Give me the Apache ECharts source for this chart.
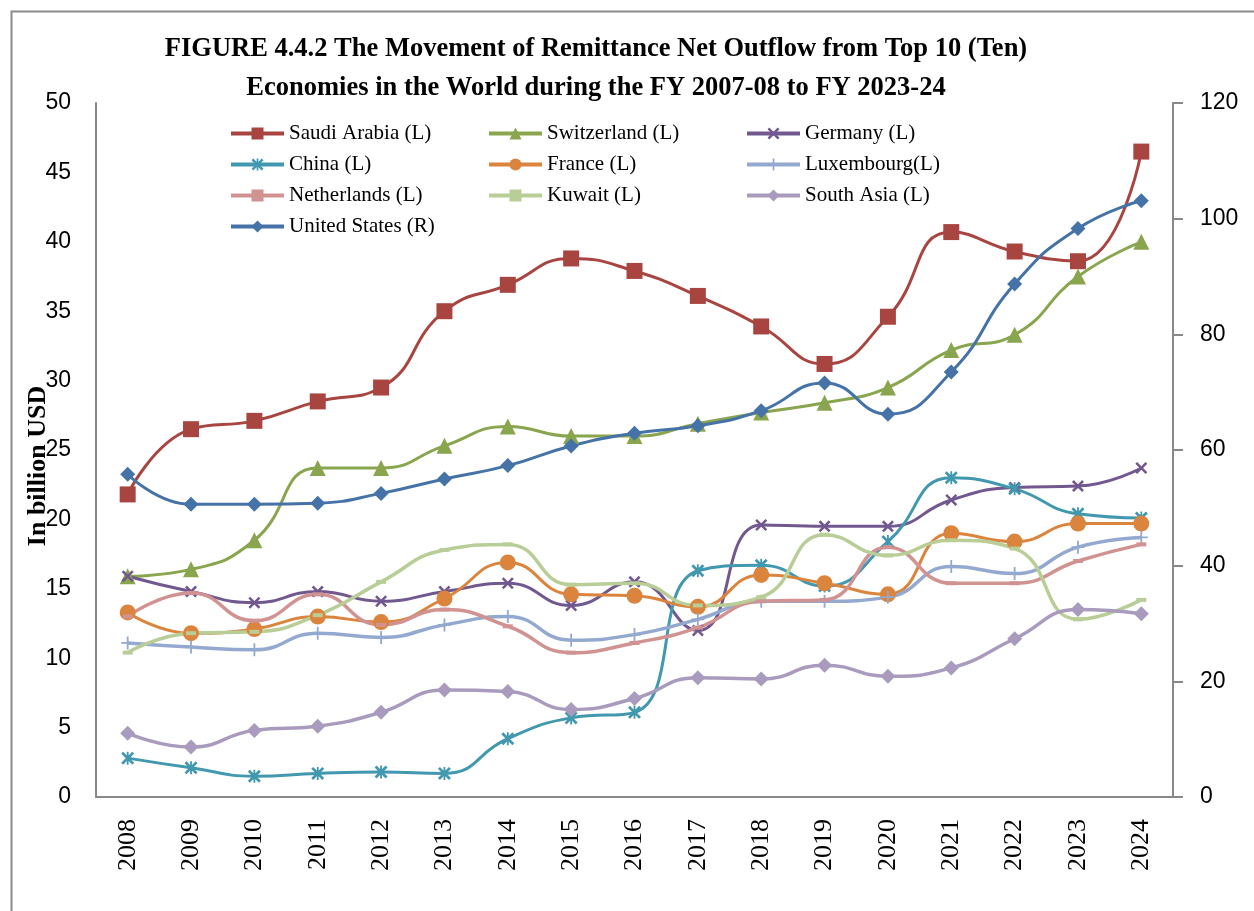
<!DOCTYPE html>
<html>
<head>
<meta charset="utf-8">
<title>Remittance Net Outflow</title>
<script src="https://cdn.jsdelivr.net/npm/echarts@6/dist/echarts.min.js"></script>
<style>
  body { margin: 0; background: #fff; }
  #chart { width: 1254px; height: 911px; }
</style>
</head>
<body>
<div id="chart"></div>
<script>
// x轴 年份
var years = ['2008', '2009', '2010', '2011', '2012', '2013', '2014', '2015', '2016',
  '2017', '2018', '2019', '2020', '2021', '2022', '2023', '2024'];

// 左轴 (L) 的数据, billion USD
var saudi = [21.8, 26.5, 27.1, 28.5, 29.5, 35.0, 36.9, 38.8, 37.9, 36.1, 33.9, 31.2, 34.6, 40.7, 39.3, 38.6, 46.5];
var switzerland = [15.9, 16.4, 18.5, 23.7, 23.7, 25.3, 26.7, 26.0, 26.0, 26.9, 27.7, 28.4, 29.5, 32.2, 33.3, 37.5, 40.0];
var germany = [15.9, 14.8, 14.0, 14.8, 14.1, 14.8, 15.4, 13.8, 15.5, 12.0, 19.6, 19.5, 19.5, 21.4, 22.3, 22.4, 23.7];
var china = [2.8, 2.1, 1.5, 1.7, 1.8, 1.7, 4.2, 5.7, 6.1, 16.3, 16.7, 15.2, 18.4, 23.0, 22.2, 20.4, 20.1];
var france = [13.3, 11.8, 12.1, 13.0, 12.6, 14.3, 16.9, 14.6, 14.5, 13.7, 16.0, 15.4, 14.6, 19.0, 18.4, 19.7, 19.7];
var luxembourg = [11.1, 10.8, 10.6, 11.8, 11.5, 12.4, 13.0, 11.3, 11.7, 12.8, 14.1, 14.1, 14.4, 16.6, 16.1, 18.0, 18.7];
var netherlands = [13.0, 14.7, 12.7, 14.6, 12.4, 13.5, 12.3, 10.4, 11.1, 12.2, 14.1, 14.2, 18.0, 15.4, 15.4, 17.0, 18.2];
var kuwait = [10.4, 11.8, 11.9, 13.1, 15.5, 17.8, 18.2, 15.3, 15.4, 13.8, 14.4, 18.9, 17.4, 18.5, 17.9, 12.8, 14.2];
var southAsia = [4.6, 3.6, 4.8, 5.1, 6.1, 7.7, 7.6, 6.3, 7.1, 8.6, 8.5, 9.5, 8.7, 9.3, 11.4, 13.5, 13.2];

// 右轴 (R)
var unitedStates = [55.8, 50.6, 50.6, 50.8, 52.5, 55.0, 57.3, 60.7, 62.9, 64.2, 66.8, 71.6, 66.2, 73.5, 88.7, 98.3, 103.1];

// 标记形状
var xMark = 'path://M1.5,0L5,3.5L8.5,0L10,1.5L6.5,5L10,8.5L8.5,10L5,6.5L1.5,10L0,8.5L3.5,5L0,1.5Z';
var starMark = 'path://M1.5,0L5,3.5L8.5,0L10,1.5L6.5,5L10,8.5L8.5,10L5,6.5L1.5,10L0,8.5L3.5,5L0,1.5Z' +
  'M4.3,0L5.7,0L5.7,10L4.3,10Z';
var plusMark = 'path://M4.3,0H5.7V4.3H10V5.7H5.7V10H4.3V5.7H0V4.3H4.3Z';

var serif = "'Liberation Serif', 'Times New Roman', serif";
var sans = "'Liberation Sans', Arial, sans-serif";

function makeLine(name, data, color, symbol, size, width, axis) {
  return {
    name: name,
    type: 'line',
    yAxisIndex: axis || 0,
    data: data,
    smooth: 0.5,
    symbol: symbol,
    symbolSize: size,
    showSymbol: true,
    lineStyle: { color: color, width: width },
    itemStyle: { color: color },
    emphasis: { disabled: true },
    z: 2
  };
}

// 图例公共样式
function makeLegend(left, names) {
  return {
    left: left, top: 123, orient: 'vertical', padding: 0,
    itemWidth: 53, itemHeight: 15, itemGap: 10,
    lineStyle: { width: 4 },
    data: names,
    textStyle: { fontFamily: serif, fontSize: 21, lineHeight: 21, color: '#000' }
  };
}

var chart = echarts.init(document.getElementById('chart'));

var option = {
  backgroundColor: '#fff',
  animation: false,
  title: {
    text: 'FIGURE 4.4.2 The Movement of Remittance Net Outflow from Top 10 (Ten)\nEconomies in the World during the FY 2007-08 to FY 2023-24',
    left: 596,
    top: 30,
    padding: 0,
    textAlign: 'center',
    textStyle: {
      fontFamily: serif,
      fontWeight: 'bold',
      fontSize: 26.5,
      lineHeight: 39,
      color: '#000'
    }
  },
  // 三列图例
  legend: [
    makeLegend(229, ['Saudi Arabia (L)', 'China (L)', 'Netherlands (L)', 'United States (R)']),
    makeLegend(487, ['Switzerland (L)', 'France (L)', 'Kuwait (L)']),
    makeLegend(745, ['Germany (L)', 'Luxembourg(L)', 'South Asia (L)'])
  ],
  grid: {
    left: 96,
    right: 81,
    top: 103,
    bottom: 114,
    containLabel: false
  },
  xAxis: {
    type: 'category',
    data: years,
    boundaryGap: true,
    axisLine: { show: true, lineStyle: { color: '#888', width: 2 } },
    axisTick: { show: false },
    axisLabel: {
      rotate: 90,
      margin: 22,
      interval: 0,
      fontFamily: serif,
      fontSize: 26,
      color: '#000'
    },
    splitLine: { show: false }
  },
  yAxis: [
    {
      type: 'value',
      min: 0,
      max: 50,
      interval: 5,
      name: 'In billion USD',
      nameLocation: 'middle',
      nameRotate: 90,
      nameGap: 45,
      nameMoveOverlap: false,
      nameTextStyle: {
        fontFamily: serif,
        fontWeight: 'bold',
        fontSize: 26,
        color: '#000',
        padding: [0, 32, 0, 0]
      },
      axisLine: { show: true, lineStyle: { color: '#888', width: 2 } },
      axisTick: { show: false },
      axisLabel: { margin: 25, fontFamily: sans, fontSize: 23, color: '#000' },
      splitLine: { show: false }
    },
    {
      type: 'value',
      min: 0,
      max: 120,
      interval: 20,
      position: 'right',
      axisLine: { show: true, lineStyle: { color: '#888', width: 2 } },
      axisTick: { show: true, length: 10, lineStyle: { color: '#888', width: 2 } },
      axisLabel: { margin: 27, fontFamily: sans, fontSize: 23, color: '#000' },
      splitLine: { show: false }
    }
  ],
  // 外框
  graphic: [{
    type: 'rect',
    left: 9,
    top: 9,
    shape: { width: 1400, height: 1000 },
    style: { fill: 'none', stroke: '#8c8c8c', lineWidth: 2 },
    silent: true
  }],
  series: [
    makeLine('Saudi Arabia (L)', saudi, '#A94541', 'rect', 16, 3),
    makeLine('Switzerland (L)', switzerland, '#89A54E', 'triangle', 16, 3),
    makeLine('Germany (L)', germany, '#71588F', xMark, 12, 3),
    makeLine('China (L)', china, '#4198AF', starMark, 13, 3),
    makeLine('France (L)', france, '#DB843D', 'circle', 16, 3),
    makeLine('Luxembourg(L)', luxembourg, '#93A9CF', plusMark, 13, 3.5),
    makeLine('Netherlands (L)', netherlands, '#D19392', 'rect', [10, 4], 3.5),
    makeLine('Kuwait (L)', kuwait, '#B9CD96', 'rect', [10, 4], 3.5),
    makeLine('South Asia (L)', southAsia, '#A99BBD', 'diamond', 15, 3.5),
    makeLine('United States (R)', unitedStates, '#4572A7', 'diamond', 15, 3, 1)
  ]
};

chart.setOption(option, true);
window.addEventListener('resize', function () {
  chart.resize();
});
</script>
</body>
</html>
